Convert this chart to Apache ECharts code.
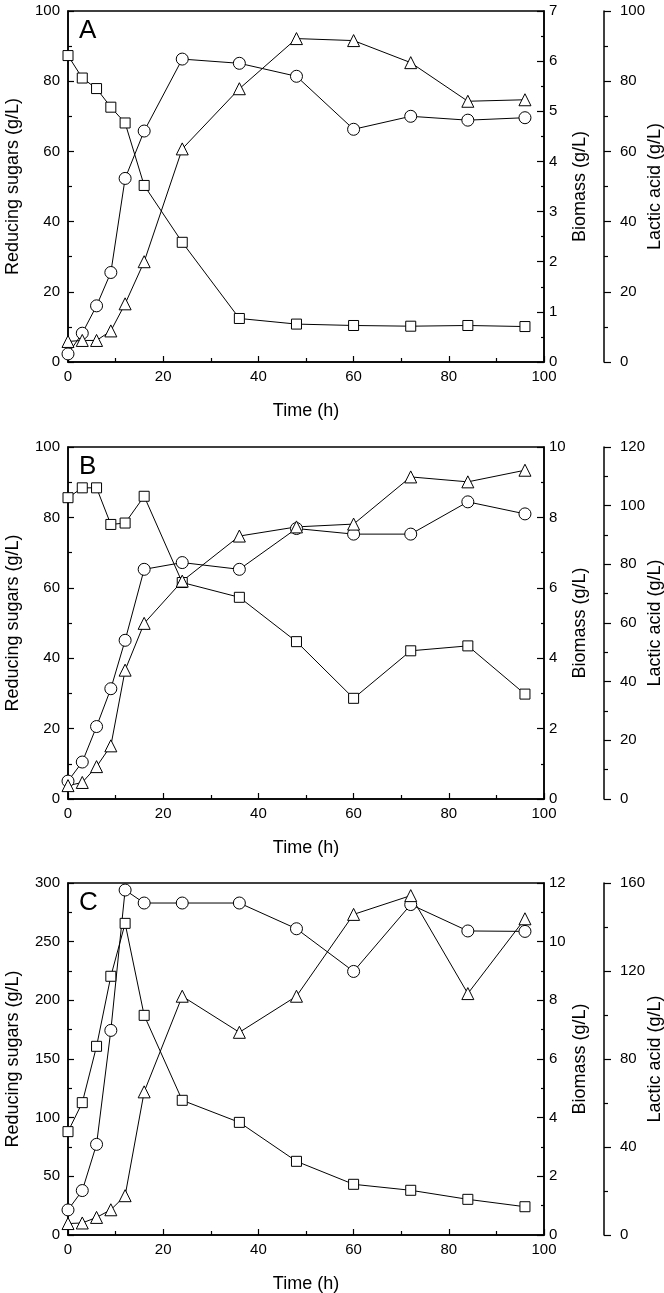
<!DOCTYPE html>
<html>
<head>
<meta charset="utf-8">
<script src="https://cdn.jsdelivr.net/npm/echarts@6/dist/echarts.min.js"></script>
<style>
  html, body { margin: 0; padding: 0; background: #fff; }
  #chart { width: 664px; height: 1293px; }
</style>
</head>
<body>
<div id="chart"></div>
<script>
// sampling times (h)
const time = [0, 3, 6, 9, 12, 16, 24, 36, 48, 60, 72, 84, 96]

// panel A
const sugarA = [87.3, 80.9, 77.9, 72.6, 68.1, 50.3, 34.1, 12.4, 10.8, 10.4, 10.2, 10.4, 10.1]
const lacticA = [2.3, 8.2, 16.0, 25.5, 52.3, 65.8, 86.3, 85.1, 81.4, 66.3, 70.0, 68.9, 69.6]
const biomassA = [0.41, 0.43, 0.43, 0.62, 1.16, 2.0, 4.25, 5.45, 6.45, 6.41, 5.97, 5.2, 5.23]

// panel B
const sugarB = [85.6, 88.4, 88.4, 78.0, 78.4, 86.0, 61.5, 57.3, 44.7, 28.6, 42.1, 43.5, 29.8]
const lacticB = [6.1, 12.6, 24.7, 37.6, 54.1, 78.3, 80.6, 78.3, 92.2, 90.3, 90.3, 101.3, 97.2]
const biomassB = [0.38, 0.47, 0.92, 1.51, 3.66, 4.99, 6.19, 7.47, 7.73, 7.81, 9.15, 9.01, 9.34]

// panel C
const sugarC = [88.1, 112.8, 160.8, 220.5, 265.6, 187.2, 114.8, 96.0, 62.8, 43.2, 38.1, 30.4, 24.1]
const lacticC = [11.4, 20.2, 41.2, 93.0, 156.8, 150.9, 150.9, 150.9, 139.2, 119.8, 150.2, 138.2, 138.0]
const biomassC = [0.39, 0.41, 0.6, 0.86, 1.34, 4.88, 8.14, 6.91, 8.14, 10.93, 11.57, 8.23, 10.78]

// axis ranges: [max, interval] for sugars, biomass, lactic acid
const axisA = { sugar: [100, 20], biomass: [7, 1], lactic: [100, 20] }
const axisB = { sugar: [100, 20], biomass: [10, 2], lactic: [120, 20] }
const axisC = { sugar: [300, 50], biomass: [12, 2], lactic: [160, 40] }

const panels = [
  { letter: 'A', top: 11, height: 351, sugar: sugarA, lactic: lacticA, biomass: biomassA, axis: axisA },
  { letter: 'B', top: 447, height: 352, sugar: sugarB, lactic: lacticB, biomass: biomassB, axis: axisB },
  { letter: 'C', top: 883, height: 352, sugar: sugarC, lactic: lacticC, biomass: biomassC, axis: axisC }
]

const FONT = 'Liberation Sans, Arial, Helvetica, sans-serif'
const black = '#000'

function pairs(values) {
  return time.map((t, i) => [t, values[i]])
}

const option = {
  animation: false,
  backgroundColor: '#fff',
  textStyle: { fontFamily: FONT, color: black },
  title: [],
  grid: [],
  xAxis: [],
  yAxis: [],
  series: []
}

panels.forEach((p, gi) => {
  option.grid.push({
    left: 68,
    top: p.top,
    width: 476,
    height: p.height,
    outerBoundsMode: 'none', // keep the plot box where it is
    containLabel: false,
    show: true,
    borderColor: black,
    borderWidth: 1.5,
    backgroundColor: 'transparent'
  })
  option.title.push({
    text: p.letter,
    left: 74,
    top: p.top + 2,
    textStyle: { fontFamily: FONT, fontSize: 26, fontWeight: 'normal', color: black }
  })
  option.xAxis.push({
    type: 'value',
    gridIndex: gi,
    min: 0,
    max: 100,
    interval: 20,
    name: 'Time (h)',
    nameLocation: 'middle',
    nameGap: 40,
    nameMoveOverlap: false,
    nameTextStyle: { fontSize: 18, color: black, fontFamily: FONT },
    axisLine: { show: true, lineStyle: { color: black, width: 1.5 } },
    axisTick: { show: true, inside: true, length: 6, lineStyle: { color: black, width: 1.2 } },
    minorTick: { show: true, splitNumber: 2, length: 4, lineStyle: { color: black, width: 1.2 } },
    axisLabel: { color: black, fontSize: 15, margin: 7, fontFamily: FONT },
    splitLine: { show: false }
  })
  const yBase = {
    type: 'value',
    gridIndex: gi,
    min: 0,
    nameLocation: 'middle',
    nameRotate: 90,
    nameMoveOverlap: false,
    nameTextStyle: { fontSize: 18, color: black, fontFamily: FONT },
    axisLine: { show: true, lineStyle: { color: black, width: 1.5 } },
    axisLabel: { color: black, fontSize: 15, fontFamily: FONT },
    splitLine: { show: false }
  }
  const yIdx = option.yAxis.length
  // reducing sugars (left)
  option.yAxis.push(Object.assign({}, yBase, {
    position: 'left',
    max: p.axis.sugar[0],
    interval: p.axis.sugar[1],
    name: 'Reducing sugars (g/L)',
    nameGap: 46,
    axisTick: { show: true, inside: true, length: 6, lineStyle: { color: black, width: 1.2 } },
    minorTick: { show: true, splitNumber: 2, length: 4, lineStyle: { color: black, width: 1.2 } },
    axisLabel: { color: black, fontSize: 15, margin: 8, fontFamily: FONT }
  }))
  // biomass (right, on the frame)
  option.yAxis.push(Object.assign({}, yBase, {
    position: 'right',
    offset: 0,
    max: p.axis.biomass[0],
    interval: p.axis.biomass[1],
    name: 'Biomass (g/L)',
    nameGap: 27,
    axisTick: { show: true, inside: true, length: 7, lineStyle: { color: black, width: 1.2 } },
    minorTick: { show: true, splitNumber: 2, length: 3, lineStyle: { color: black, width: 1.2 } },
    axisLabel: { color: black, fontSize: 15, margin: 5, fontFamily: FONT }
  }))
  // lactic acid (second right axis, ticks outward)
  option.yAxis.push(Object.assign({}, yBase, {
    position: 'right',
    offset: 60,
    max: p.axis.lactic[0],
    interval: p.axis.lactic[1],
    name: 'Lactic acid (g/L)',
    nameGap: 42,
    axisTick: { show: true, inside: false, length: 7, lineStyle: { color: black, width: 1.2 } },
    minorTick: { show: true, splitNumber: 2, length: 4, lineStyle: { color: black, width: 1.2 } },
    axisLabel: { color: black, fontSize: 15, margin: 16, fontFamily: FONT }
  }))

  const common = {
    type: 'line',
    xAxisIndex: gi,
    clip: false,
    lineStyle: { color: black, width: 1 },
    itemStyle: { color: '#fff', borderColor: black, borderWidth: 1 },
    emphasis: { disabled: true }
  }
  option.series.push(Object.assign({}, common, {
    name: 'Reducing sugars ' + p.letter,
    yAxisIndex: yIdx,
    symbol: 'rect',
    symbolSize: 10,
    data: pairs(p.sugar)
  }))
  option.series.push(Object.assign({}, common, {
    name: 'Lactic acid ' + p.letter,
    yAxisIndex: yIdx + 2,
    symbol: 'circle',
    symbolSize: 12,
    data: pairs(p.lactic)
  }))
  option.series.push(Object.assign({}, common, {
    name: 'Biomass ' + p.letter,
    yAxisIndex: yIdx + 1,
    symbol: 'triangle',
    symbolSize: 12,
    data: pairs(p.biomass)
  }))
})

const chart = echarts.init(document.getElementById('chart'), null, { renderer: 'canvas' })
chart.setOption(option)
</script>
</body>
</html>
